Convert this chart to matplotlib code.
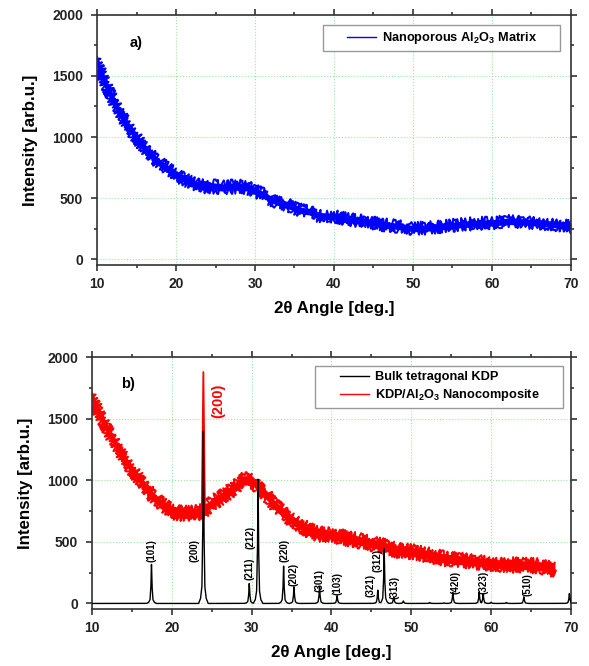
import numpy as np
import matplotlib
matplotlib.use('Agg')
import matplotlib.pyplot as plt
from matplotlib.ticker import MultipleLocator
from matplotlib.lines import Line2D
from matplotlib.legend_handler import HandlerLine2D

plt.rcParams['font.family'] = 'Liberation Sans'
plt.rcParams['font.weight'] = 'bold'
plt.rcParams['mathtext.fontset'] = 'custom'
plt.rcParams['mathtext.rm'] = 'Liberation Sans:bold'
plt.rcParams['mathtext.bf'] = 'Liberation Sans:bold'
plt.rcParams['mathtext.default'] = 'bf'

# ---- panel a: nanoporous Al2O3 matrix (blue), read every 1 deg
angle_a = list(range(10, 71))
matrix_a = [1600, 1450, 1305, 1185, 1085, 995, 910, 840, 785, 735,
            692, 658, 625, 600, 598, 595, 588, 595, 595, 590,
            560, 530, 492, 468, 448, 422, 398, 390, 360, 352,
            352, 338, 326, 318, 312, 298, 285, 278, 272, 262,
            253, 255, 258, 265, 272, 278, 285, 290, 293, 296,
            299, 305, 312, 310, 307, 303, 299, 292, 285, 275,
            268]
noise_a = [55, 50, 45, 40, 38, 36, 34, 32, 32, 30,
           30, 30, 30, 30, 30, 30, 30, 30, 30, 30,
           30, 28, 28, 28, 28, 28, 27, 27, 27, 26,
           26, 26, 26, 26, 26, 26, 26, 26, 26, 26,
           26, 26, 26, 26, 26, 26, 26, 26, 26, 26,
           26, 26, 26, 26, 26, 26, 26, 26, 26, 26,
           26]

# ---- panel b: KDP/Al2O3 nanocomposite (red), background every 1 deg
angle_b = list(range(10, 69))
composite_b = [1660, 1535, 1400, 1290, 1180, 1085, 1005, 915, 845, 790,
               750, 735, 730, 735, 750,
               815, 852, 897, 950, 1000, 1000, 940, 870, 790, 735,
               680, 638, 600, 572, 558, 557, 543, 529, 515, 502,
               488, 475, 455, 434, 428, 421, 408, 394, 380, 367,
               360, 353, 346, 339, 333, 326, 319, 312, 312, 312,
               308, 304, 290, 271]
noise_b = [50, 45, 42, 40, 38, 38, 38, 38, 38, 38,
           38, 38, 38, 38, 36,
           38, 38, 38, 38, 38, 38, 38, 38, 38, 38,
           38, 38, 38, 36, 36, 36, 36, 36, 36, 36,
           36, 36, 36, 36, 36, 36, 36, 36, 36, 36,
           36, 36, 36, 36, 36, 36, 36, 36, 36, 36,
           36, 36, 36, 32]
# sharp (200) reflection of the composite
spike_x = [23.75, 23.95, 24.15]
spike_y = [745, 1880, 760]

# ---- bulk tetragonal KDP reference peaks (black)
peak_pos = [17.45, 23.95, 29.7, 30.8, 34.0, 35.3, 38.5, 40.7, 45.8, 46.6,
            47.8, 49.0, 52.3, 54.1, 55.2, 58.5, 59.0, 60.0, 61.9, 64.1, 69.8]
peak_height = [317, 1400, 162, 1010, 303, 135, 135, 62, 108, 446,
               54, 20, 8, 5, 89, 90, 80, 10, 8, 54, 81]

hkl_labels = ['(101)', '(200)', '(211)', '(212)', '(220)', '(202)', '(301)',
              '(103)', '(321)', '(312)', '(313)', '(420)', '(323)', '(510)']
hkl_x = [17.5, 22.8, 29.7, 29.9, 34.1, 35.3, 38.5, 40.7, 44.9, 45.8,
         47.9, 55.5, 59.1, 64.6]
hkl_y = [433, 433, 284, 536, 428, 238, 190, 165, 144, 346, 130, 173, 173, 157]

# peak shape used to draw the reference pattern
shape_dx = [-0.6, -0.35, -0.18, -0.07, 0, 0.07, 0.18, 0.35, 0.6]
shape_fr = [0, 0.03, 0.1, 0.45, 1, 0.45, 0.1, 0.03, 0]

grid_col = (0.6, 0.92, 0.6)


def style_axes(ax):
    ax.set_xlim(10, 70)
    ax.set_ylim(-45, 2000)
    ax.xaxis.set_major_locator(MultipleLocator(10))
    ax.xaxis.set_minor_locator(MultipleLocator(5))
    ax.yaxis.set_major_locator(MultipleLocator(500))
    ax.yaxis.set_minor_locator(MultipleLocator(250))
    ax.tick_params(which='both', direction='out', top=True, right=True,
                   labelsize=10, width=1.1, colors='#222222')
    ax.tick_params(axis='x', which='major', pad=4.5)
    ax.tick_params(axis='y', which='major', pad=6)
    ax.tick_params(which='major', length=4)
    ax.tick_params(which='minor', length=2.5)
    for lab in ax.get_xticklabels() + ax.get_yticklabels():
        lab.set_fontweight('bold')
    for sp in ax.spines.values():
        sp.set_linewidth(1.2)
        sp.set_color('#333333')
    ax.grid(True, which='major', color=grid_col, linestyle=':', linewidth=0.8)
    ax.set_axisbelow(True)
    ax.set_xlabel(u'2\u03b8 Angle [deg.]', fontsize=12.2, fontweight='bold',
                  labelpad=7)
    ax.set_ylabel('Intensity [arb.u.]', fontsize=12.2, fontweight='bold',
                  labelpad=10)


def add_legend(ax, anchor):
    hm = {Line2D: HandlerLine2D(xpad=1.5)}
    ax.legend(loc='upper right', bbox_to_anchor=anchor, borderaxespad=0,
              frameon=True, fancybox=False, edgecolor='#999999',
              framealpha=1, handlelength=3.8, handletextpad=0.45,
              borderpad=0.4, labelspacing=0.3, handler_map=hm,
              prop={'weight': 'bold', 'size': 9.2})


def noisy_band(ax, x, y, n, color, z):
    # solid core of the scan plus jagged edges (sketch is only a drawing style)
    ax.fill_between(x, y - n, y + n, color=color, linewidth=0, zorder=z)
    for edge in (y - n, y + n):
        ln, = ax.plot(x, edge, color=color, linewidth=1.4, zorder=z)
        ln.set_sketch_params(scale=3.5, length=1.5, randomness=3)


fig = plt.figure(figsize=(5.89, 6.66), dpi=100)
ax1 = fig.add_axes([0.1647, 0.6021, 0.8047, 0.3759])
ax2 = fig.add_axes([0.1562, 0.0856, 0.8132, 0.3780])

# panel a
xa = np.array(angle_a, dtype=float)
ya = np.array(matrix_a, dtype=float)
na = np.array(noise_a, dtype=float)
noisy_band(ax1, xa, ya, na, '#0000ff', 2)
ax1.plot(xa, ya, color='#0000ff', linewidth=1.0,
         label='Nanoporous Al$_2$O$_3$ Matrix      ')
ax1.text(15.0, 1765, 'a)', fontsize=10.5, fontweight='bold', ha='center', va='center')
style_axes(ax1)
add_legend(ax1, (0.977, 0.959))

# panel b
xb = np.array(angle_b, dtype=float)
yb = np.array(composite_b, dtype=float)
nb = np.array(noise_b, dtype=float)
grid = np.linspace(10, 70, 6001)
kdp = np.zeros_like(grid)
for p, h in zip(peak_pos, peak_height):
    kdp = np.maximum(kdp, h * np.interp(grid - p, shape_dx, shape_fr))
noisy_band(ax2, xb, yb, nb, '#ff0000', 2)
ax2.plot(spike_x, spike_y, color='#ff0000', linewidth=1.3, zorder=2)
ax2.plot(grid, kdp, color='black', linewidth=1.0,
         label='Bulk tetragonal KDP', zorder=3)
ax2.plot(xb, yb, color='#ff0000', linewidth=1.0,
         label='KDP/Al$_2$O$_3$ Nanocomposite      ', zorder=2)
for lab, x, y in zip(hkl_labels, hkl_x, hkl_y):
    ax2.text(x, y, lab, rotation=90, fontsize=7, fontweight='bold',
             ha='center', va='center', zorder=4)
ax2.text(25.8, 1650, '(200)', rotation=90, fontsize=10.5, fontweight='bold',
         color='#ff0000', ha='center', va='center')
ax2.text(14.5, 1780, 'b)', fontsize=10.5, fontweight='bold', ha='center', va='center')
style_axes(ax2)
add_legend(ax2, (0.983, 0.965))

fig.savefig('out.png', dpi=100)
